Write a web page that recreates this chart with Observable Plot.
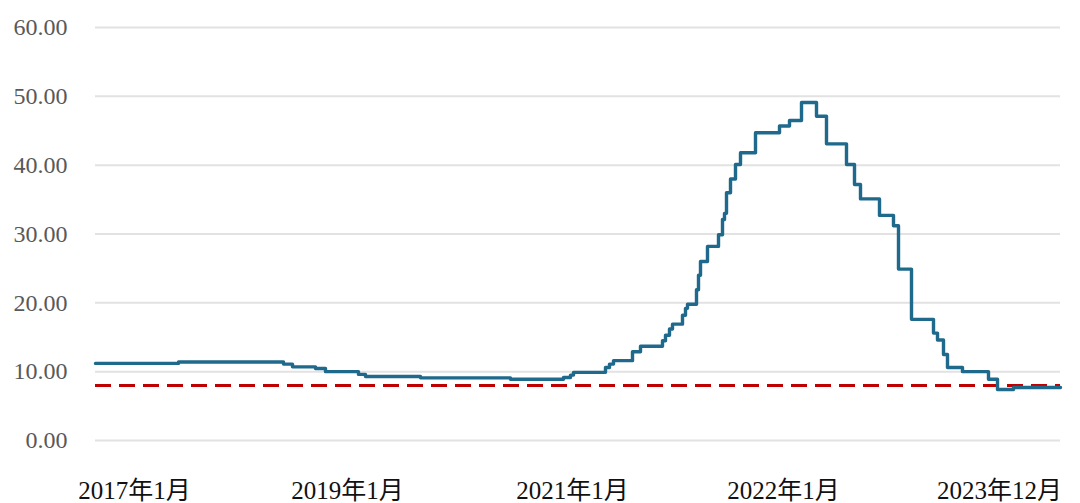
<!DOCTYPE html>
<html>
<head>
<meta charset="utf-8">
<script src="https://cdn.jsdelivr.net/npm/d3@7"></script>
<script src="https://cdn.jsdelivr.net/npm/@observablehq/plot@0.6"></script>
<style>
  html, body { margin: 0; padding: 0; background: #fff; }
  #chart { width: 1080px; height: 503px; overflow: hidden; }
</style>
</head>
<body>
<div id="chart"></div>
<script>
// observation index along the category axis (irregular sampling) and series value
const obsIndex = [0, 83, 188, 197, 220, 230, 263, 270, 325, 415, 468, 475, 478, 510, 514, 518, 537, 545,
  567, 570, 574, 577, 587, 590, 592, 601, 603, 605, 612, 623, 627, 629, 631, 635, 640, 645,
  660, 684, 694, 706, 721, 731, 751, 759, 765, 784, 798, 803, 816, 838, 842, 848, 852, 867,
  893, 902, 918, 965];
const seriesValues = [11.2, 11.4, 11.1, 10.7, 10.45, 10.0, 9.6, 9.3, 9.1, 8.9, 9.15, 9.5, 9.9, 10.6, 11.1, 11.6, 12.9, 13.7,
  14.5, 15.3, 16.2, 16.9, 18.2, 19.2, 19.8, 21.9, 24.0, 26.0, 28.2, 29.9, 32.1, 33.0, 36.0, 38.0, 40.1, 41.8,
  44.7, 45.7, 46.5, 49.1, 47.1, 43.1, 40.1, 37.2, 35.1, 32.7, 31.2, 24.9, 17.6, 15.6, 14.6, 12.5, 10.6, 10.0,
  8.9, 7.4, 7.7, 7.7];
const referenceLevel = [8.0];
const xTickIndex = [39, 252, 477, 688, 904];
const xTickLabels = ["2017年1月", "2019年1月", "2021年1月", "2022年1月", "2023年12月"];
const yTicks = [0, 10, 20, 30, 40, 50, 60];

const data = obsIndex.map((x, i) => ({x, y: seriesValues[i]}));
const fontFamily = '"Liberation Serif", "Times New Roman", "Noto Sans CJK SC", serif';

const chart = Plot.plot({
  width: 1080,
  height: 503,
  marginLeft: 95,
  marginRight: 20,
  marginTop: 27,
  marginBottom: 63,
  style: {fontFamily, background: "#fff", overflow: "visible"},
  x: {domain: [0, 965]},
  y: {domain: [0, 60]},
  marks: [
    Plot.gridY(yTicks, {stroke: "#e2e2e2", strokeOpacity: 1, strokeWidth: 2}),
    Plot.axisY(yTicks, {
      tickSize: 0, tickPadding: 28, fontSize: 24, color: "#595959",
      tickFormat: d => d.toFixed(2), label: null
    }),
    Plot.axisX(xTickIndex, {
      tickSize: 0, tickPadding: 41, fontSize: 25, color: "#111",
      tickFormat: (d, i) => xTickLabels[xTickIndex.indexOf(d)], label: null
    }),
    Plot.ruleY(referenceLevel, {stroke: "#c00000", strokeWidth: 3, strokeDasharray: "16,8"}),
    Plot.line(data, {x: "x", y: "y", curve: "step-after", stroke: "#1f6a8c", strokeWidth: 3.4})
  ]
});
document.getElementById("chart").appendChild(chart);
</script>
</body>
</html>
